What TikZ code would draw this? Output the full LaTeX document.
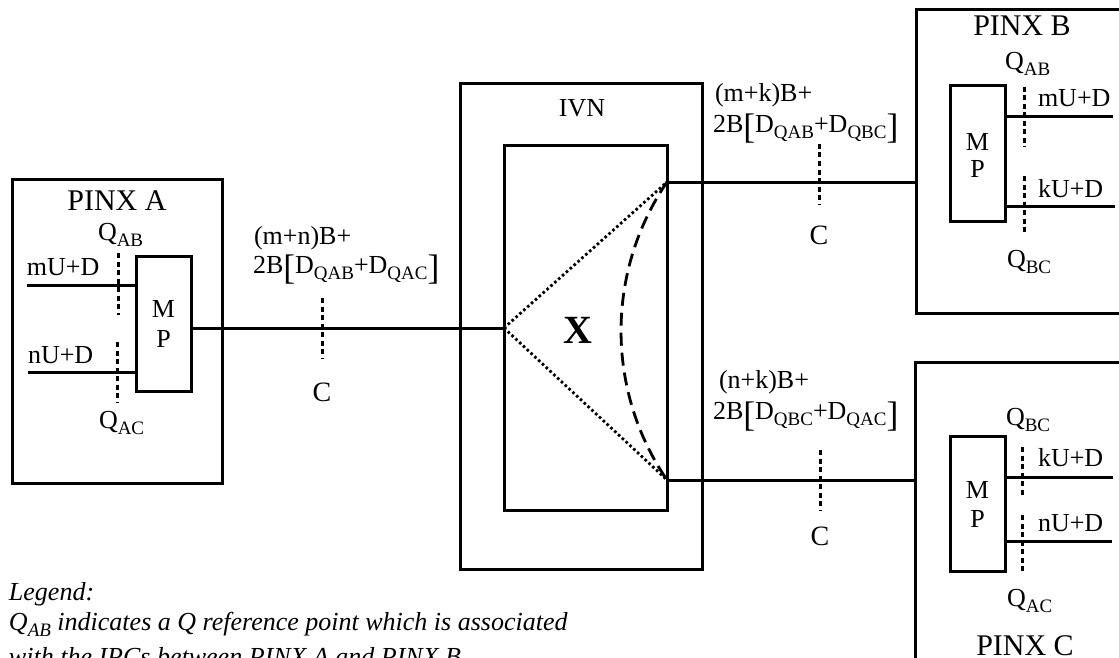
\documentclass[tikz,border=0pt]{standalone}
\usepackage{fontspec}
\setmainfont{Liberation Serif}
\usetikzlibrary{fit}
\newcommand\sbx[1]{\raisebox{-6pt}{\fontsize{19}{19}\selectfont #1}}
\newcommand\bigbr[1]{\raisebox{-6.5pt}{\fontsize{35.5}{36}\selectfont #1}}
\newcommand\lsbx[1]{\raisebox{-6pt}{\fontsize{19}{19}\selectfont\itshape #1}}
\begin{document}
\begin{tikzpicture}[x=1pt,y=-1pt,line join=miter]
\tikzset{
  every node/.style={inner sep=0pt,outer sep=0pt},
  boxst/.style={draw,line width=3pt,inner sep=0pt,fit={#1}},
  wire/.style={line width=3pt},
  refline/.style={line width=3pt,dash pattern=on 5pt off 3.5pt},
  dotline/.style={line width=2.8pt,dash pattern=on 2.6pt off 2.6pt},
  dashcurve/.style={line width=2.8pt,dash pattern=on 13pt off 7pt},
  lbl/.style={font=\fontsize{26}{30}\selectfont,anchor=base west},
  clbl/.style={font=\fontsize{26}{30}\selectfont,anchor=base},
  biglbl/.style={font=\fontsize{30}{34}\selectfont,anchor=base},
  clabel/.style={font=\fontsize{28}{32}\selectfont,anchor=base},
  xlbl/.style={font=\fontsize{40}{44}\selectfont\bfseries,anchor=base},
  leg/.style={font=\fontsize{26}{30}\selectfont\itshape,anchor=base west}
}
\useasboundingbox (0,0) rectangle (1119,658);
\clip (0,0) rectangle (1119,658);

% boxes
\node[boxst={(12,179) (222,483)}] (pinxA) {};
\node[boxst={(136,256) (191,391)}] (mpA) {};
\node[boxst={(460,84) (702,569)}] (ivn) {};
\node[boxst={(504,146) (667,510)}] (xbox) {};
\node[boxst={(916,10) (1140,313)}] (pinxB) {};
\node[boxst={(950,86) (1005,221)}] (mpB) {};
\node[boxst={(915,362) (1140,690)}] (pinxC) {};
\node[boxst={(950,436) (1005,571)}] (mpC) {};

% junction points
\coordinate (jU) at (667,182);
\coordinate (jD) at (667,480);
\coordinate (inA1) at (27,285);
\coordinate (inA2) at (28,372);
\coordinate (outB1) at (1113,117);
\coordinate (outB2) at (1115,206);
\coordinate (outC1) at (1113,477);
\coordinate (outC2) at (1112,541);

% connectors
\draw[wire] (xbox.west -| mpA.east) -- (xbox.west);
\draw[wire] (jU) -- (jU -| pinxB.west);
\draw[wire] (jD) -- (jD -| pinxC.west);
\draw[wire] (inA1) -- (inA1 -| mpA.west);
\draw[wire] (inA2) -- (inA2 -| mpA.west);
\draw[wire] (outB1 -| mpB.east) -- (outB1);
\draw[wire] (outB2 -| mpB.east) -- (outB2);
\draw[wire] (outC1 -| mpC.east) -- (outC1);
\draw[wire] (outC2 -| mpC.east) -- (outC2);

% switching paths
\draw[dotline] (xbox.west) -- (jU);
\draw[dotline] (xbox.west) -- (jD);
\draw[dashcurve] (jU) .. controls (605.7,271.8) and (605.7,390.2) .. (jD);

% reference points
\coordinate (rA1t) at (118,253); \coordinate (rA1b) at (118,315);
\coordinate (rA2t) at (117,342); \coordinate (rA2b) at (117,402);
\coordinate (rC1t) at (322,298); \coordinate (rC1b) at (322,358);
\coordinate (rC2t) at (819,144); \coordinate (rC2b) at (819,204);
\coordinate (rC3t) at (820,450); \coordinate (rC3b) at (820,511);
\coordinate (rB1t) at (1024,87); \coordinate (rB1b) at (1024,147);
\coordinate (rB2t) at (1024,176); \coordinate (rB2b) at (1024,235);
\coordinate (rK1t) at (1022,447); \coordinate (rK1b) at (1022,497);
\coordinate (rK2t) at (1022,515); \coordinate (rK2b) at (1022,572);
\draw[refline] (rA1t) -- (rA1b);
\draw[refline] (rA2t) -- (rA2b);
\draw[refline] (rC1t) -- (rC1b);
\draw[refline] (rC2t) -- (rC2b);
\draw[refline] (rC3t) -- (rC3b);
\draw[refline] (rB1t) -- (rB1b);
\draw[refline] (rB2t) -- (rB2b);
\draw[refline] (rK1t) -- (rK1b);
\draw[refline] (rK2t) -- (rK2b);

% PINX A texts
\node[biglbl] (tA) at (117,210) {PINX A};
\node[lbl] (qA1) at (98,240) {Q\sbx{AB}};
\node[lbl] (qA2) at (99,428) {Q\sbx{AC}};
\node[lbl] (uA1) at (27,275) {mU+D};
\node[lbl] (uA2) at (28,363) {nU+D};
\node[clbl] (mA) at (163.5,317) {M};
\node[clbl] (pA) at (163.5,347) {P};

% link A
\node[lbl] (f1a) at (254,244) {(m+n)B+};
\node[lbl] (f1b) at (253,273) {2B\bigbr{[}D\sbx{QAB}+D\sbx{QAC}\bigbr{]}};
\node[clabel] (c1) at (322,401) {C};

% IVN
\node[clbl] (tIVN) at (582,116.5) {IVN};
\node[xlbl] (tX) at (578,343) {X};

% link B
\node[lbl] (f2a) at (715,101.7) {(m+k)B+};
\node[lbl] (f2b) at (713,132) {2B\bigbr{[}D\sbx{QAB}+D\sbx{QBC}\bigbr{]}};
\node[clabel] (c2) at (819,244) {C};

% link C
\node[lbl] (f3a) at (719,388.5) {(n+k)B+};
\node[lbl] (f3b) at (713,419.5) {2B\bigbr{[}D\sbx{QBC}+D\sbx{QAC}\bigbr{]}};
\node[clabel] (c3) at (820,545) {C};

% PINX B texts
\node[biglbl] (tB) at (1022,36) {PINX B};
\node[lbl] (qB1) at (1005,70) {Q\sbx{AB}};
\node[lbl] (uB1) at (1038,107) {mU+D};
\node[lbl] (uB2) at (1038,197) {kU+D};
\node[lbl] (qB2) at (1007,267) {Q\sbx{BC}};
\node[clbl] (mB) at (977.5,150) {M};
\node[clbl] (pB) at (977.5,177) {P};

% PINX C texts
\node[lbl] (qC1) at (1006,425) {Q\sbx{BC}};
\node[lbl] (uC1) at (1038,466.7) {kU+D};
\node[lbl] (uC2) at (1038,531.7) {nU+D};
\node[lbl] (qC2) at (1007,606.7) {Q\sbx{AC}};
\node[biglbl] (tC) at (1025,655) {PINX C};
\node[clbl] (mC) at (977.5,498) {M};
\node[clbl] (pC) at (977.5,527) {P};

% legend
\node[leg] (leg1) at (9,600) {Legend:};
\node[leg] (leg2) at (9,630) {Q\lsbx{AB} indicates a Q reference point which is associated};
\node[leg] (leg3) at (9,665) {with the IPCs between PINX A and PINX B};
\end{tikzpicture}
\end{document}
